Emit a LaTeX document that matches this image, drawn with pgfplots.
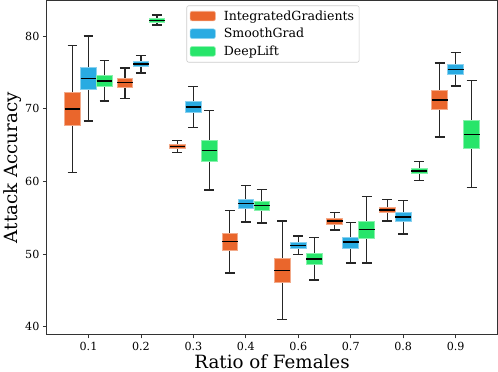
\documentclass[border=0pt]{standalone}
\usepackage{pgfplots}
\pgfplotsset{compat=1.18}
\usepackage{fontspec}
\setmainfont{DejaVu Serif}

\definecolor{igc}{RGB}{234,102,44}
\definecolor{sgc}{RGB}{41,171,226}
\definecolor{dlc}{RGB}{39,229,106}

\pgfplotsset{
  wsk/.style={black!85, line width=1.3pt, forget plot},
  med/.style={black, line width=1.5pt, forget plot},
}

% one box: color, position, lower whisker, q1, median, q3, upper whisker
\newcommand{\bx}[7]{%
  \pgfmathsetmacro\xa{#2-0.15}\pgfmathsetmacro\xb{#2+0.15}%
  \pgfmathsetmacro\ca{#2-0.095}\pgfmathsetmacro\cb{#2+0.095}%
  \edef\doit{%
    \noexpand\addplot[wsk] coordinates {(#2,#3) (#2,#4)};
    \noexpand\addplot[wsk] coordinates {(#2,#6) (#2,#7)};
    \noexpand\addplot[wsk] coordinates {(\ca,#3) (\cb,#3)};
    \noexpand\addplot[wsk] coordinates {(\ca,#7) (\cb,#7)};
    \noexpand\addplot[fill=#1, draw=#1!55!white, line width=0.8pt, forget plot]
      coordinates {(\xa,#4) (\xb,#4) (\xb,#6) (\xa,#6)} -- cycle;
    \noexpand\addplot[med] coordinates {(\xa,#5) (\xb,#5)};
  }\doit}

\begin{document}
\begin{tikzpicture}
\begin{axis}[
    width=445pt, height=330pt, scale only axis,
    xmin=-0.8, xmax=7.8,
    ymin=38.9, ymax=84.9,
    xtick={0,1,2,3,4,5,6,7},
    xticklabels={0.1,0.2,0.3,0.4,0.6,0.7,0.8,0.9},
    ytick={40,50,60,70,80},
    tick align=outside,
    tick pos=left,
    major tick length=3.5pt,
    every tick/.style={black!80, line width=0.8pt},
    axis line style={black!80, line width=0.8pt},
    tick label style={font=\fontsize{11}{13}\selectfont},
    /pgf/number format/assume math mode=true,
    xlabel={Ratio of Females},
    ylabel={Attack Accuracy},
    label style={font=\fontsize{18}{21}\selectfont},
    xlabel style={yshift=3pt},
    ylabel style={yshift=-3pt},
    legend style={at={(0.502,0.985)}, anchor=north,
      font=\fontsize{12.4}{15}\selectfont,
      draw=black!20, rounded corners=2pt, line width=0.6pt,
      row sep=2.5pt, inner xsep=3pt, inner ysep=3pt},
    legend cell align=left,
    legend image code/.code={\draw[#1] (0pt,-4.5pt) rectangle (25pt,5pt);
      \path (31pt,0pt);},
]
\addlegendimage{fill=igc, draw=igc!55!white}
\addlegendentry{IntegratedGradients}
\addlegendimage{fill=sgc, draw=sgc!55!white}
\addlegendentry{SmoothGrad}
\addlegendimage{fill=dlc, draw=dlc!55!white}
\addlegendentry{DeepLift}

% 0.1
\bx{igc}{-0.305}{61.22}{67.73}{69.97}{72.22}{78.72}
\bx{sgc}{0}{68.32}{72.63}{74.14}{75.66}{80.00}
\bx{dlc}{0.305}{71.07}{73.09}{73.81}{74.60}{76.62}
% 0.2
\bx{igc}{0.695}{71.44}{72.95}{73.64}{74.14}{75.60}
\bx{sgc}{1}{74.91}{75.79}{76.15}{76.52}{77.30}
\bx{dlc}{1.305}{81.51}{81.92}{82.16}{82.39}{82.89}
% 0.3
\bx{igc}{1.695}{63.97}{64.52}{64.84}{65.16}{65.66}
\bx{sgc}{2}{67.45}{69.47}{70.24}{71.02}{73.09}
\bx{dlc}{2.305}{58.83}{62.82}{64.29}{65.66}{69.75}
% 0.4
\bx{igc}{2.695}{47.42}{50.54}{51.74}{52.84}{56.04}
\bx{sgc}{3}{54.43}{56.27}{56.96}{57.60}{59.48}
\bx{dlc}{3.305}{54.29}{56.00}{56.69}{57.24}{58.93}
% 0.6
\bx{igc}{3.695}{41.02}{46.05}{47.78}{49.48}{54.57}
\bx{sgc}{4}{49.95}{50.78}{51.19}{51.60}{52.51}
\bx{dlc}{4.305}{46.46}{48.58}{49.35}{50.17}{52.29}
% 0.7
\bx{igc}{4.695}{53.33}{54.12}{54.53}{54.94}{55.77}
\bx{sgc}{5}{48.80}{50.86}{51.68}{52.37}{54.39}
\bx{dlc}{5.305}{48.80}{52.19}{53.38}{54.57}{57.97}
% 0.8
\bx{igc}{5.695}{54.57}{55.73}{56.08}{56.45}{57.51}
\bx{sgc}{6}{52.78}{54.49}{55.12}{55.73}{57.37}
\bx{dlc}{6.305}{60.16}{61.12}{61.44}{61.77}{62.74}
% 0.9
\bx{igc}{6.695}{66.12}{69.88}{71.20}{72.54}{76.29}
\bx{sgc}{7}{73.13}{74.74}{75.38}{76.07}{77.72}
\bx{dlc}{7.305}{59.16}{64.60}{66.49}{68.41}{73.91}
\end{axis}
\end{tikzpicture}
\end{document}
